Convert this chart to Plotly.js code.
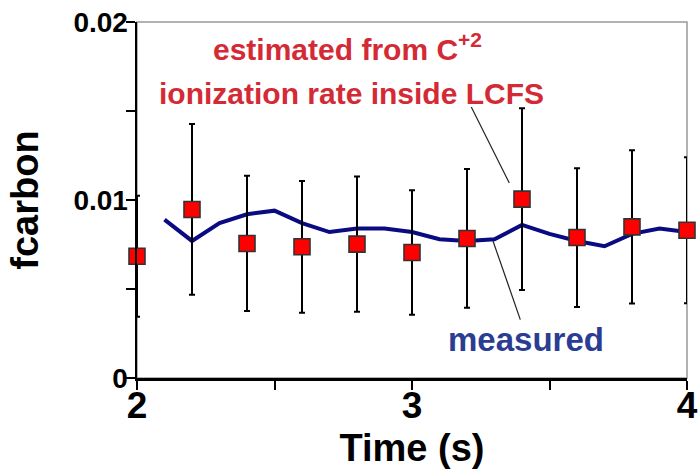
<!DOCTYPE html>
<html>
<head>
<meta charset="utf-8">
<script src="https://cdn.plot.ly/plotly-3.0.1.min.js"></script>
<style>html,body{margin:0;padding:0;background:#fff;}#chart{width:698px;height:471px;}</style>
</head>
<body>
<div id="chart"></div>
<script>
// Estimated from C+2 ionization rate inside LCFS (points with error bars)
const estTimes = [2.0, 2.2, 2.4, 2.6, 2.8, 3.0, 3.2, 3.4, 3.6, 3.8, 4.0];
const estimated = [0.00684, 0.00947, 0.00756, 0.00737, 0.00752, 0.00705, 0.00784, 0.01005, 0.00789, 0.00849, 0.00830];
const estError = [0.0034, 0.0048, 0.0038, 0.0037, 0.0038, 0.0035, 0.0039, 0.0051, 0.0039, 0.0043, 0.0041];

// Measured carbon fraction (line)
const measTimes = [2.1, 2.2, 2.3, 2.4, 2.5, 2.6, 2.7, 2.8, 2.9, 3.0, 3.1, 3.2, 3.3, 3.4, 3.5, 3.6, 3.7, 3.8, 3.9, 4.0];
const measured = [0.0089, 0.0077, 0.0087, 0.0092, 0.0094, 0.0087, 0.0082, 0.0084, 0.0084, 0.0082, 0.0078, 0.0077, 0.0078, 0.0086, 0.0081, 0.0077, 0.0074, 0.0081, 0.0084, 0.0082];

// Tick labels
const xTickVals = [2, 2.5, 3, 3.5, 4];
const xTickText = ['2', '', '3', '', '4'];
const yTickVals = [0, 0.005, 0.01, 0.015, 0.02];
const yTickText = ['0', '', '0.01', '', '0.02'];

const FONT = '"Liberation Sans", Arial, Helvetica, sans-serif';

const traces = [
  {
    type: 'scatter', mode: 'lines', name: 'measured',
    x: measTimes, y: measured,
    line: {color: '#0a0a82', width: 4},
    cliponaxis: false, hoverinfo: 'skip'
  },
  {
    type: 'scatter', mode: 'markers', name: 'estimated',
    x: estTimes, y: estimated,
    error_y: {type: 'data', array: estError, visible: true, color: '#000', thickness: 2, width: 3},
    marker: {symbol: 'square', size: 16, color: '#ff0000', line: {color: '#333', width: 1.6}},
    cliponaxis: false, hoverinfo: 'skip'
  }
];

const layout = {
  width: 698, height: 471,
  margin: {l: 137, r: 11, t: 22, b: 93, pad: 0},
  paper_bgcolor: '#fff', plot_bgcolor: '#fff',
  showlegend: false,
  font: {family: FONT, color: '#000'},
  xaxis: {
    range: [2, 4], showgrid: false, zeroline: false,
    showline: true, linecolor: '#000', linewidth: 2.5,
    ticks: 'outside', ticklen: 9, tickwidth: 2, tickcolor: '#000',
    tickmode: 'array', tickvals: xTickVals, ticktext: xTickText,
    ticklabelstandoff: -16,
    tickfont: {family: FONT, size: 37, weight: 'bold', color: '#000'},
    title: {text: 'Time (s)', font: {family: FONT, size: 38, weight: 'bold', color: '#000'}, standoff: 10}
  },
  yaxis: {
    range: [0, 0.02], showgrid: false, zeroline: false,
    showline: true, linecolor: '#000', linewidth: 2.5,
    ticks: 'outside', ticklen: 9, tickwidth: 2, tickcolor: '#000',
    tickmode: 'array', tickvals: yTickVals, ticktext: yTickText,
    ticklabelstandoff: -8,
    tickfont: {family: FONT, size: 28, weight: 'bold', color: '#000'},
    title: {text: 'fcarbon', font: {family: FONT, size: 38, weight: 'bold', color: '#000'}, standoff: 23}
  },
  shapes: [
    {type: 'rect', xref: 'paper', yref: 'paper', x0: 0, x1: 1, y0: 0, y1: 1,
     line: {color: '#999', width: 1.5}, layer: 'below'},
    {type: 'line', xref: 'x', yref: 'y', x0: 3.2156, y0: 0.01522, x1: 3.3538, y1: 0.01095,
     line: {color: '#222', width: 1.2}},
    {type: 'line', xref: 'x', yref: 'y', x0: 3.2945, y0: 0.0077, x1: 3.3938, y1: 0.00328,
     line: {color: '#222', width: 1.2}}
  ],
  annotations: [
    {xref: 'x', yref: 'y', x: 2.765, y: 0.0186, text: 'estimated from C<sup>+2</sup>',
     showarrow: false, xanchor: 'center', yanchor: 'middle',
     font: {family: FONT, size: 30, weight: 'bold', color: '#d42a35'}},
    {xref: 'x', yref: 'y', x: 2.781, y: 0.0160, text: 'ionization rate inside LCFS',
     showarrow: false, xanchor: 'center', yanchor: 'middle',
     font: {family: FONT, size: 30, weight: 'bold', color: '#d42a35'}},
    {xref: 'x', yref: 'y', x: 3.414, y: 0.00218, text: 'measured',
     showarrow: false, xanchor: 'center', yanchor: 'middle',
     font: {family: FONT, size: 33, weight: 'bold', color: '#2a3d92'}}
  ]
};

Plotly.newPlot('chart', traces, layout, {displayModeBar: false, staticPlot: true});
</script>
</body>
</html>
